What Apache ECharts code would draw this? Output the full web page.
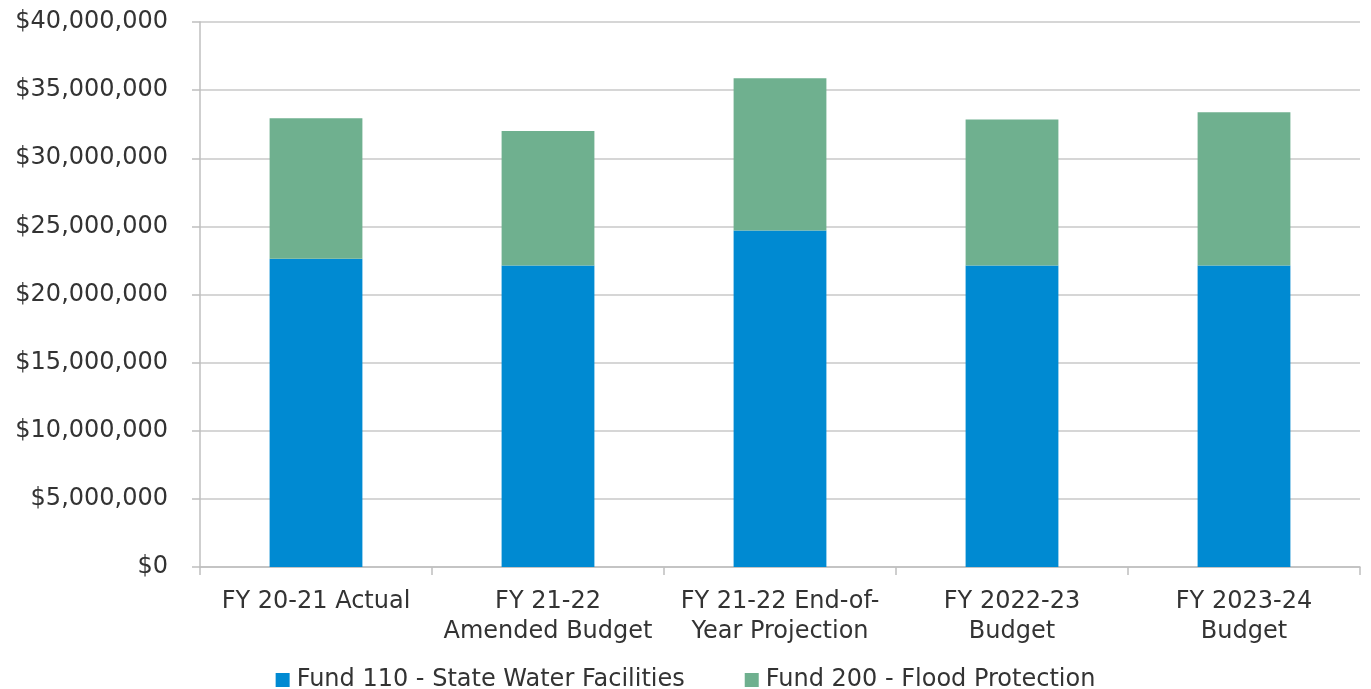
<!DOCTYPE html>
<html>
<head>
<meta charset="utf-8">
<script src="https://cdn.jsdelivr.net/npm/echarts@6/dist/echarts.min.js"></script>
<style>
html,body{margin:0;padding:0;background:#fff;}
#chart{width:1371px;height:689px;}
</style>
</head>
<body>
<div id="chart"></div>
<script>
const categories = ['FY 20-21 Actual', 'FY 21-22\nAmended Budget', 'FY 21-22 End-of-\nYear Projection', 'FY 2022-23\nBudget', 'FY 2023-24\nBudget'];
const fund110 = [22620000, 22130000, 24700000, 22130000, 22130000];
const fund200 = [10310000, 9870000, 11170000, 10720000, 11240000];
const seriesNames = ['Fund 110 - State Water Facilities', 'Fund 200 - Flood Protection'];

const FONT = 'DejaVu Sans';
const TEXT = '#333333';
const chart = echarts.init(document.getElementById('chart'), null, {renderer: 'canvas'});
chart.setOption({
  animation: false,
  backgroundColor: '#ffffff',
  textStyle: {fontFamily: FONT},
  grid: {left: 200, right: 11, top: 22, bottom: 122, containLabel: false},
  legend: {
    top: 663,
    left: 'center',
    itemWidth: 14,
    itemHeight: 14,
    itemGap: 60,
    icon: 'rect',
    textStyle: {fontFamily: FONT, fontSize: 24, color: TEXT, padding: [0, 0, 0, 2]},
    data: seriesNames
  },
  xAxis: {
    type: 'category',
    data: categories,
    axisLine: {lineStyle: {color: '#bfbfbf', width: 1.5}},
    axisTick: {show: true, length: 8, alignWithLabel: false, lineStyle: {color: '#bfbfbf', width: 1.5}},
    axisLabel: {fontFamily: FONT, fontSize: 24, color: TEXT, margin: 20, lineHeight: 30, interval: 0}
  },
  yAxis: {
    type: 'value',
    min: 0,
    max: 40000000,
    interval: 5000000,
    axisLine: {show: true, lineStyle: {color: '#bfbfbf', width: 1.5}},
    axisTick: {show: true, length: 8, lineStyle: {color: '#bfbfbf', width: 1.5}},
    splitLine: {lineStyle: {color: '#c8c8c8', width: 1.5}},
    axisLabel: {
      fontFamily: FONT, fontSize: 24, color: TEXT, margin: 32,
      formatter: v => '$' + v.toLocaleString('en-US')
    }
  },
  series: [
    {name: seriesNames[0], type: 'bar', stack: 'total', data: fund110, barWidth: '40%', itemStyle: {color: '#008AD2'}},
    {name: seriesNames[1], type: 'bar', stack: 'total', data: fund200, barWidth: '40%', itemStyle: {color: '#6FB08F'}}
  ]
});
</script>
</body>
</html>
